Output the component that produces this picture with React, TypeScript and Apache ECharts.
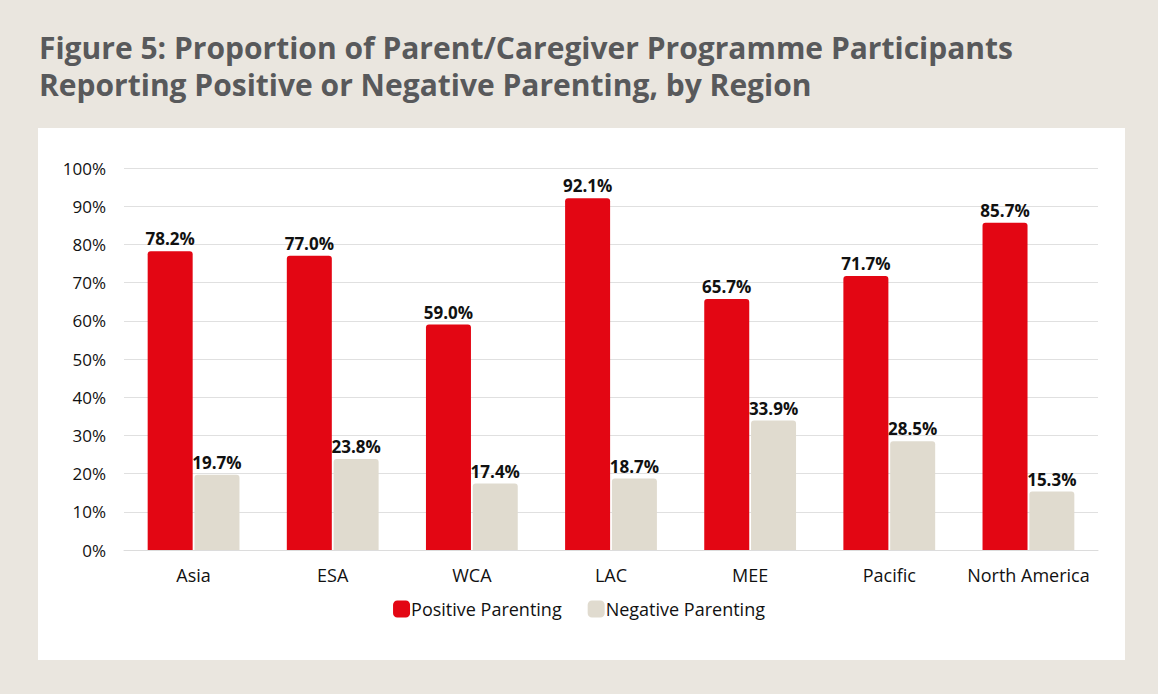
import React, { useEffect, useRef } from "react";
import * as echarts from "echarts";

const categories = ["Asia", "ESA", "WCA", "LAC", "MEE", "Pacific", "North America"];
const positiveParenting = [78.2, 77.0, 59.0, 92.1, 65.7, 71.7, 85.7];
const negativeParenting = [19.7, 23.8, 17.4, 18.7, 33.9, 28.5, 15.3];
const yTicks = [0, 10, 20, 30, 40, 50, 60, 70, 80, 90, 100];

const FONT = "'Open Sans', Lato, sans-serif";

export default function App() {
  const ref = useRef<HTMLDivElement>(null);
  useEffect(() => {
    document.body.style.margin = "0";
    const chart = echarts.init(ref.current!, undefined, { renderer: "svg" });
    chart.setOption({
      animation: false,
      backgroundColor: "#EAE6DF",
      graphic: [
        {
          type: "rect",
          shape: { x: 38, y: 128, width: 1087, height: 532 },
          style: { fill: "#ffffff" },
          z: -10,
        },
      ],
      title: {
        text: "Figure 5: Proportion of Parent/Caregiver Programme Participants\nReporting Positive or Negative Parenting, by Region",
        left: 34,
        top: 24,
        textStyle: {
          fontFamily: FONT,
          fontWeight: "bold",
          fontSize: 30,
          lineHeight: 37,
          color: "#58595B",
        },
      },
      legend: {
        bottom: 71,
        left: "center",
        itemWidth: 17,
        itemHeight: 17,
        itemGap: 26,
        icon: "roundRect",
        textStyle: { fontFamily: FONT, fontSize: 18, color: "#111", padding: [0, 0, 0, -4] },
        data: ["Positive Parenting", "Negative Parenting"],
      },
      grid: { left: 124, right: 60, top: 168, bottom: 144, containLabel: false },
      xAxis: {
        type: "category",
        data: categories,
        axisLine: { show: true, lineStyle: { color: "#dcdcdc" } },
        axisTick: { show: false },
        axisLabel: { interval: 0, fontFamily: FONT, fontSize: 18, color: "#111", margin: 16 },
      },
      yAxis: {
        type: "value",
        min: yTicks[0],
        max: yTicks[yTicks.length - 1],
        interval: 10,
        axisLine: { show: false },
        axisTick: { show: false },
        splitLine: { lineStyle: { color: "#e0e0e0", width: 1 } },
        axisLabel: {
          fontFamily: FONT,
          fontSize: 17,
          color: "#111",
          margin: 18,
          formatter: (v: number) => `${v}%`,
        },
      },
      series: [
        {
          name: "Positive Parenting",
          type: "bar",
          data: positiveParenting,
          barWidth: 45,
          barGap: "4%",
          itemStyle: { color: "#E30613", borderRadius: [3, 3, 0, 0] },
          label: {
            show: true,
            position: "top",
            distance: 4,
            fontFamily: FONT,
            fontWeight: "bold",
            fontSize: 17,
            color: "#111",
            formatter: (p: any) => `${p.value.toFixed(1)}%`,
          },
        },
        {
          name: "Negative Parenting",
          type: "bar",
          data: negativeParenting,
          barWidth: 45,
          itemStyle: { color: "#E0DBCF", borderRadius: [3, 3, 0, 0] },
          label: {
            show: true,
            position: "top",
            distance: 4,
            fontFamily: FONT,
            fontWeight: "bold",
            fontSize: 17,
            color: "#111",
            formatter: (p: any) => `${p.value.toFixed(1)}%`,
          },
        },
      ],
    });
    return () => chart.dispose();
  }, []);
  return (
    <div
      ref={ref}
      style={{ position: "fixed", left: 0, top: 0, width: 1158, height: 694 }}
    />
  );
}
